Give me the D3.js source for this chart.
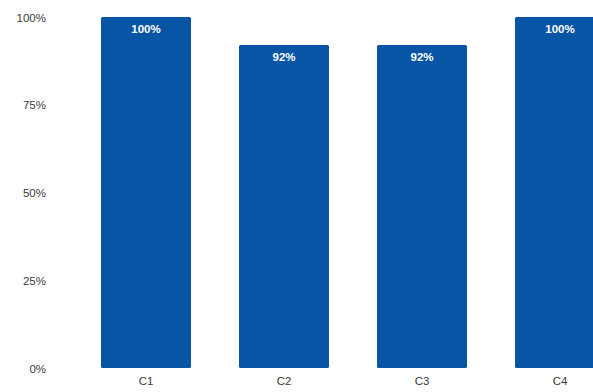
<!DOCTYPE html>
<html>
<head>
<meta charset="utf-8">
<script src="https://d3js.org/d3.v7.min.js"></script>
<style>
body { margin: 0; background: #fff; }
svg { display: block; font-family: "Liberation Sans", Arial, sans-serif; }
.tick text { fill: #3a3a3a; font-size: 11.5px; }
.bar { fill: #0854a5; }
.val { fill: #fff; font-size: 11.5px; font-weight: bold; }
</style>
</head>
<body>
<svg width="593" height="392"></svg>
<script>

var categories = ["C1", "C2", "C3", "C4"];
var values = [100, 92, 92, 100];
var yTicks = [0, 25, 50, 75, 100];

var svg = d3.select("svg"),
    width = +svg.attr("width"),
    height = +svg.attr("height");

var x = d3.scaleBand()
    .domain(categories)
    .range([77, 629])
    .paddingInner(0.348)
    .paddingOuter(0.174);

var y = d3.scaleLinear()
    .domain([0, 100])
    .range([368, 17]);

// y axis, labels only
svg.append("g")
    .attr("transform", "translate(46,0)")
    .call(d3.axisLeft(y).tickValues(yTicks).tickSize(0).tickPadding(0)
      .tickFormat(function(d) { return d + "%"; }))
    .call(function(g) { g.select(".domain").remove(); })
    .selectAll("text").attr("dy", "0.35em");

// x axis, labels only
svg.append("g")
    .attr("transform", "translate(0,368)")
    .call(d3.axisBottom(x).tickSize(0).tickPadding(9))
    .call(function(g) { g.select(".domain").remove(); });

var data = categories.map(function(c, i) { return {cat: c, value: values[i]}; });

svg.append("g")
  .selectAll("rect")
  .data(data)
  .enter().append("rect")
    .attr("class", "bar")
    .attr("x", function(d) { return x(d.cat); })
    .attr("y", function(d) { return y(d.value); })
    .attr("width", x.bandwidth())
    .attr("height", function(d) { return y(0) - y(d.value); })
    .attr("rx", 1.5);

svg.append("g")
  .selectAll("text")
  .data(data)
  .enter().append("text")
    .attr("class", "val")
    .attr("text-anchor", "middle")
    .attr("x", function(d) { return x(d.cat) + x.bandwidth() / 2; })
    .attr("y", function(d) { return y(d.value) + 16; })
    .text(function(d) { return d.value + "%"; });

</script>
</body>
</html>
